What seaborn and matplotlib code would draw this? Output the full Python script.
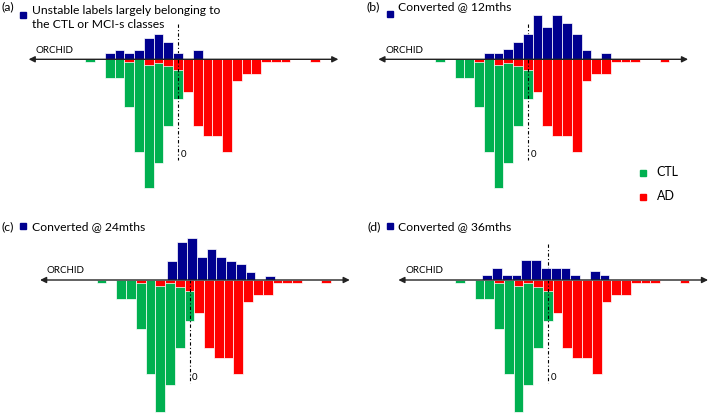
import numpy as np
import pandas as pd
import seaborn as sns
import matplotlib
matplotlib.use("Agg")
import matplotlib.pyplot as plt
from matplotlib.lines import Line2D

# histogram bins along the ORCHID axis (bin index)
bins = np.arange(25)

# CTL and AD distributions (same in every panel), drawn below the axis
ctl = [0.8, 0, 5.5, 5.5, 14.4, 27.7, 38.7, 31.0, 20.0, 12.0, 0, 0, 0,
       0, 0, 0, 0, 0, 0, 0, 0, 0, 0, 0, 0]
ad = [0, 0, 0, 0, 0.8, 0, 1.8, 1.0, 2.0, 3.2, 9.7, 20.0, 23.0,
      23.0, 27.7, 6.5, 4.4, 4.4, 0.8, 0.8, 0.8, 0, 0, 0.8, 0]

# blue bars above the axis, one series per panel
unstable = [0, 0, 2.0, 2.9, 1.8, 2.9, 6.3, 7.5, 5.1, 2.0, 0, 2.9, 0,
            0, 0, 0, 0, 0, 0, 0, 0, 0, 0, 0, 0]
conv12 = [0, 0, 0, 0, 0, 2.0, 2.0, 3.0, 5.2, 7.5, 13.4, 9.8, 13.4,
          11.0, 7.6, 2.8, 0, 2.0, 0, 0, 0, 0, 0, 0, 0]
conv24 = [0, 0, 0, 0, 0, 0, 0, 5.6, 11.2, 12.4, 6.8, 9.0, 6.8,
          5.7, 4.6, 2.4, 0, 1.2, 0, 0, 0, 0, 0, 0, 0]
conv36 = [0, 0, 0, 1.4, 3.6, 1.4, 1.4, 5.8, 5.8, 3.6, 3.6, 3.6, 1.4,
          0, 2.6, 1.6, 0, 0, 0, 0, 0, 0, 0, 0, 0]

letters = ["(a)", "(b)", "(c)", "(d)"]
titles = ["Unstable labels largely belonging to\nthe CTL or MCI-s classes",
          "Converted @ 12mths", "Converted @ 24mths", "Converted @ 36mths"]
legend_labels = ["CTL", "AD"]

GREEN = "#00b050"
RED = "#ff0000"
BLUE = "#00008f"

W, H = 711, 413
fig = plt.figure(figsize=(W / 100, H / 100), dpi=100)
plt.rcParams['font.family'] = ['Lato', 'DejaVu Sans']

XLIM = (-7, 26.5)
YLIM = (-42, 16)
SX = 9.77  # px per bin


def fx(x):
    return x / W


def fy(y):
    return 1 - y / H


def make_ax(x0, y0, sy):
    left = x0 + XLIM[0] * SX
    width = (XLIM[1] - XLIM[0]) * SX
    top = y0 - YLIM[1] * sy
    height = (YLIM[1] - YLIM[0]) * sy
    ax = fig.add_axes([fx(left), fy(top + height), width / W, height / H])
    return ax


def bars(ax, x, y, color, z):
    d = pd.DataFrame({"x": x, "y": y})
    d = d[d.y != 0]
    sns.barplot(data=d, x="x", y="y", native_scale=True, width=1, color=color,
                saturation=1, edgecolor="white", linewidth=0.5, errorbar=None,
                ax=ax, zorder=z)


# bin-0 centre x, axis y (pixels), vertical scale, blue shift
panels = [(90.2, 59.3, 3.33, 0.0, unstable),
          (439.9, 59.3, 3.33, 0.0, conv12),
          (101.6, 280.0, 3.4, 0.24, conv24),
          (459.9, 280.0, 3.4, -0.2, conv36)]

for i, (x0, y0, sy, shift, blue) in enumerate(panels):
    ax = make_ax(x0, y0, sy)
    bars(ax, bins, -np.array(ctl), GREEN, 1)
    bars(ax, bins, -np.array(ad), RED, 2)
    bars(ax, bins + shift, np.array(blue), BLUE, 4)
    ax.plot([9, 9], [10.5, -30.3], color="black", lw=0.8,
            linestyle=(0, (3, 2, 1, 2)), zorder=3)
    ax.annotate("", xy=(25.4, 0), xytext=(-6.3, 0),
                arrowprops=dict(arrowstyle="<|-|>", color="#222222", lw=1.0,
                                mutation_scale=9, shrinkA=0, shrinkB=0),
                zorder=6)
    ax.text(-5.6, 2.7, "ORCHID", fontsize=7, va="center", ha="left")
    ax.text(9.25, -28.7, "0", fontsize=7, va="center", ha="left")
    ax.set_xlim(XLIM)
    ax.set_ylim(YLIM)
    ax.axis("off")

# panel headings
heads = [(2, 7, 22.5, 14.5, 31.5, 6.5),
         (366, 7, 389.5, 14.0, 398, 6.5),
         (2, 226.5, 23.0, 226.5, 32, 226.5),
         (367, 226.5, 389.5, 226.5, 398, 226.5)]
for (lx, ly, mx, my, tx, ty), let, tt in zip(heads, letters, titles):
    fig.text(fx(lx), fy(ly), let, fontsize=8.8, va="center", ha="left")
    fig.add_artist(Line2D([fx(mx)], [fy(my)], marker="s", markersize=5,
                          color=BLUE, transform=fig.transFigure))
    if "\n" in tt:
        fig.text(fx(tx), fy(ty - 1), tt, fontsize=8.7, va="top", ha="left",
                 linespacing=1.25)
    else:
        fig.text(fx(tx), fy(ty), tt, fontsize=8.7, va="center", ha="left")

# CTL / AD key
for lab, col, yy in zip(legend_labels, [GREEN, RED], [172.5, 196.5]):
    fig.add_artist(Line2D([fx(642.5)], [fy(yy)], marker="s", markersize=5,
                          color=col, transform=fig.transFigure))
    fig.text(fx(656.5), fy(yy), lab, fontsize=9, va="center", ha="left")

fig.savefig("out.png", dpi=100)
